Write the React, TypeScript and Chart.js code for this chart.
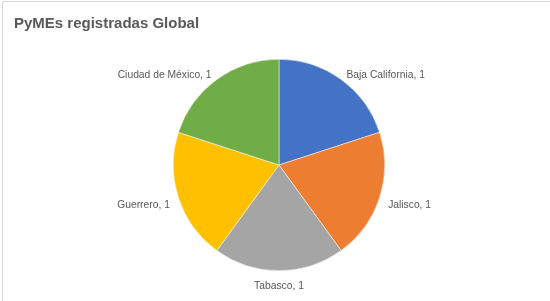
import React, { useEffect, useRef } from "react";
import { Chart, registerables } from "chart.js";

Chart.register(...registerables);

const chartTitle = "PyMEs registradas Global";
const categories = ["Baja California", "Jalisco", "Tabasco", "Guerrero", "Ciudad de México"];
const values = [1, 1, 1, 1, 1];
const colors = ["#4472C4", "#ED7D31", "#A5A5A5", "#FFC000", "#70AD47"];

const LABEL_FONT = "10.3px 'Liberation Sans', sans-serif";
const TITLE_FONT = "bold 15px 'Liberation Sans', sans-serif";
const TEXT_COLOR = "#595959";

const decorPlugin = {
  id: "decor",
  beforeDraw(chart: any) {
    const ctx = chart.ctx;
    ctx.save();
    ctx.fillStyle = "#ffffff";
    ctx.fillRect(0, 0, chart.width, chart.height);
    ctx.strokeStyle = "#d9d9d9";
    ctx.lineWidth = 1;
    ctx.beginPath();
    ctx.moveTo(2.5, chart.height);
    ctx.lineTo(2.5, 1.5);
    ctx.lineTo(chart.width, 1.5);
    ctx.stroke();
    ctx.fillStyle = TEXT_COLOR;
    ctx.font = TITLE_FONT;
    ctx.textAlign = "left";
    ctx.textBaseline = "middle";
    ctx.fillText(chartTitle, 14, 24);
    ctx.restore();
  },
  afterDatasetsDraw(chart: any) {
    const ctx = chart.ctx;
    const meta = chart.getDatasetMeta(0);
    ctx.save();
    ctx.font = LABEL_FONT;
    ctx.fillStyle = TEXT_COLOR;
    ctx.textBaseline = "middle";
    meta.data.forEach((arc: any, i: number) => {
      const { x, y, startAngle, endAngle, outerRadius } = arc.getProps(
        ["x", "y", "startAngle", "endAngle", "outerRadius"],
        true
      );
      const mid = (startAngle + endAngle) / 2;
      const d = outerRadius + 9;
      const c = Math.cos(mid);
      const s = Math.sin(mid);
      const lx = x + d * c;
      const ly = y + d * s + 4.5 + 2 * s;
      ctx.textAlign = c > 0.3 ? "left" : c < -0.3 ? "right" : "center";
      ctx.fillText(`${categories[i]}, ${values[i]}`, lx, ly);
    });
    ctx.restore();
  },
};

export default function App() {
  const ref = useRef<HTMLCanvasElement | null>(null);
  useEffect(() => {
    if (!ref.current) return;
    const chart = new Chart(ref.current, {
      type: "pie",
      data: {
        labels: categories,
        datasets: [
          {
            data: values,
            backgroundColor: colors,
            borderColor: "#ffffff",
            borderWidth: 0.5,
          },
        ],
      },
      options: {
        responsive: false,
        animation: false,
        layout: { padding: { left: 8, right: 0, top: 59, bottom: 30 } },
        plugins: {
          legend: { display: false },
          title: { display: false },
          tooltip: { enabled: false },
        },
      },
      plugins: [decorPlugin],
    });
    return () => chart.destroy();
  }, []);
  return (
    <div style={{ position: "absolute", left: 0, top: 0, width: 550, height: 301 }}>
      <canvas ref={ref} width={550} height={301} style={{ display: "block" }} />
    </div>
  );
}
